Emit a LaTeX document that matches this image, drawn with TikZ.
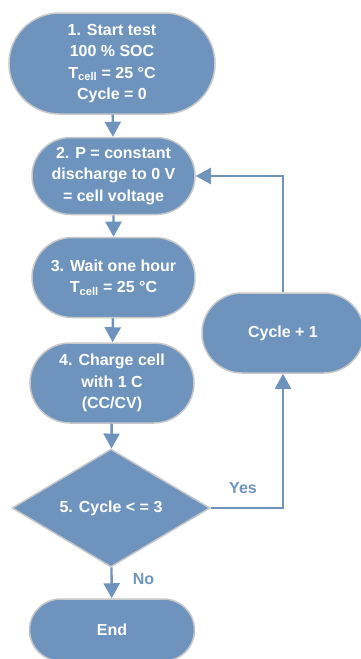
\documentclass[tikz,border=0pt]{standalone}
\usepackage{fontspec}
\setmainfont{Liberation Sans}
\usetikzlibrary{shapes.misc,shapes.geometric,arrows.meta}

\definecolor{flowblue}{RGB}{110,148,190}
\definecolor{rimgray}{RGB}{200,200,200}

\begin{document}
\begin{tikzpicture}[x=1pt,y=1pt,yscale=-1,
    stadium/.style={rounded rectangle, fill=flowblue, draw=rimgray, line width=1.5pt,
      text=white, align=center, inner sep=0pt,
      font=\fontsize{16}{21.5}\selectfont\bfseries},
    decision/.style={diamond, fill=flowblue, draw=rimgray, line width=1.5pt,
      text=white, inner sep=0pt, minimum width=198, minimum height=118,
      font=\fontsize{16}{21.5}\selectfont\bfseries},
    flow/.style={draw=flowblue, line width=2.4pt, -{Triangle[length=15pt,width=16pt]}},
    loop/.style={flow, line width=2pt},
    answer/.style={text=flowblue, inner sep=0pt,
      font=\fontsize{16}{21.5}\selectfont\bfseries}]
        \clip (0,0) rectangle (361,659);

        % Main column
        \node [stadium, minimum width=206, minimum height=101] (start) at (112,63.5)
          {1. Start test\\100 \% SOC\\T\textsubscript{cell} = 25 °C\\Cycle = 0};
        \node [stadium, minimum width=163, minimum height=77] (discharge) at (113.5,176)
          {2. P = constant\\discharge to 0 V\\= cell voltage};
        \node [stadium, minimum width=163, minimum height=80] (wait) at (113.5,277.5)
          {3. Wait one hour\\T\textsubscript{cell} = 25 °C};
        \node [stadium, minimum width=164, minimum height=80] (charge) at (112,383)
          {4. Charge cell\\with 1 C\\(CC/CV)};
        \node [decision] (check) at (111,508) {5. Cycle < = 3};
        \node [stadium, minimum width=165, minimum height=62] (stop) at (112,630) {End};

        % Loop back
        \node [stadium, minimum width=162, minimum height=80] (count) at (283,333) {Cycle + 1};

        % Connectors
        \draw [flow] (start) -- (discharge);
        \draw [flow] (discharge) -- (wait);
        \draw [flow] (wait) -- (charge);
        \draw [flow] (charge) -- (check);
        \draw [flow] (check) -- (stop);
        \draw [loop] (check.east) -| (count.south);
        \draw [loop] (count.north) |- (discharge.east);

        % Labels
        \node [answer] (yes) at (243,488) {Yes};
        \node [answer] (no) at (143.5,579) {No};
\end{tikzpicture}
\end{document}
